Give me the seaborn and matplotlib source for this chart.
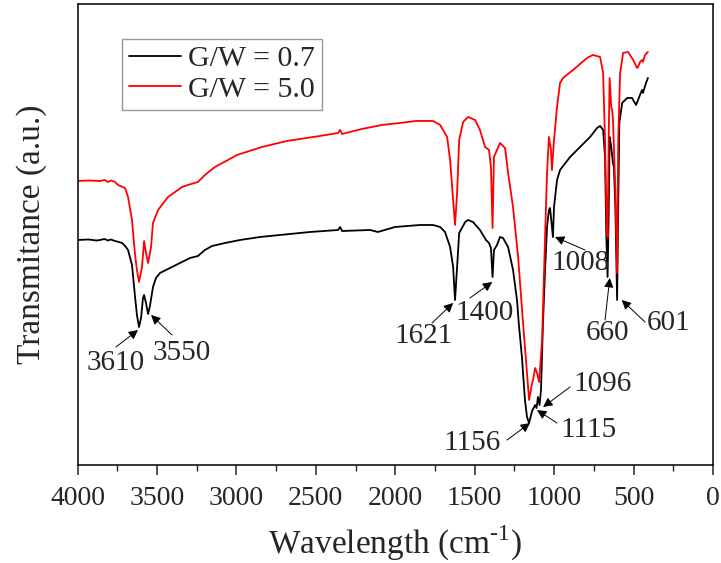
import matplotlib
matplotlib.use("Agg")
import matplotlib.pyplot as plt
import seaborn as sns
import pandas as pd

# ---------------- data ----------------
wn_black = [4000, 3930, 3880, 3858, 3830, 3808, 3790, 3764, 3740, 3720, 3700, 3682, 3657, 3639, 3626,
            3613, 3600, 3588, 3581, 3569, 3556, 3544, 3525, 3506, 3481, 3418, 3355, 3292, 3242, 3198,
            3153, 3071, 2977, 2851, 2726, 2537, 2360, 2347, 2335, 2159, 2109, 2002, 1844, 1762, 1718,
            1687, 1655, 1636, 1624, 1611, 1598, 1560, 1542, 1511, 1467, 1429, 1410, 1398, 1388, 1379,
            1360, 1341, 1322, 1290, 1259, 1234, 1222, 1203, 1184, 1171, 1158, 1139, 1120, 1111, 1102,
            1092, 1083, 1071, 1058, 1045, 1033, 1026, 1014, 1008, 1001, 982, 963, 900, 837, 774,
            730, 711, 692, 680, 672, 664, 657, 651, 641, 630, 624, 615, 604, 597, 590,
            572, 541, 510, 485, 472, 460, 447, 441, 422, 410]
t_black = [225, 225.5, 224.5, 225, 226, 224.5, 225.5, 224, 223, 222, 219, 215, 200, 170, 150,
           138, 147, 167, 170, 162, 151, 159, 178, 187, 192, 197, 202, 207, 209, 215,
           219, 222, 225, 228, 230, 233, 235, 238, 234, 235, 233, 238, 240, 240, 238,
           233, 218, 198, 165, 198, 232, 243, 245, 243, 235, 225, 222, 217, 188, 215,
           220, 228, 227, 218, 195, 165, 140, 108, 65, 48, 42, 54, 60, 57, 68,
           60, 75, 140, 192, 238, 255, 257, 238, 228, 258, 285, 295, 308, 318, 328,
           337, 339, 335, 308, 230, 188, 250, 328, 318, 302, 298, 258, 165, 258, 342,
           362, 367, 367, 360, 365, 370, 375, 372, 382, 387]

wn_red = [4000, 3930, 3858, 3830, 3808, 3790, 3764, 3745, 3701, 3682, 3657, 3639, 3626, 3613, 3594,
          3581, 3569, 3556, 3537, 3525, 3493, 3430, 3342, 3305, 3242, 3198, 3135, 3053, 2996, 2839,
          2682, 2474, 2360, 2347, 2335, 2210, 2084, 1970, 1870, 1762, 1718, 1674, 1655, 1636, 1624,
          1611, 1598, 1573, 1542, 1498, 1467, 1435, 1410, 1398, 1388, 1379, 1360, 1341, 1309, 1290,
          1259, 1227, 1196, 1171, 1158, 1139, 1133, 1120, 1108, 1095, 1076, 1058, 1045, 1033, 1020,
          1014, 1001, 982, 963, 944, 881, 793, 756, 711, 692, 680, 672, 664, 657, 651,
          641, 635, 630, 615, 604, 597, 585, 566, 535, 503, 478, 472, 460, 447, 441,
          428, 410]
t_red = [284, 284.5, 284, 285, 283, 284.5, 283, 280, 277, 268, 245, 212, 195, 183, 198,
         224, 212, 202, 218, 242, 255, 268, 278, 280, 283, 290, 298, 305, 310, 318,
         324, 329, 332, 335, 331, 336, 340, 342, 344, 344, 340, 328, 305, 265, 240,
         272, 325, 343, 348, 345, 335, 318, 315, 298, 237, 308, 315, 322, 317, 292,
         258, 208, 142, 92, 65, 82, 85, 97, 92, 83, 125, 225, 292, 328, 315,
         295, 325, 358, 382, 387, 395, 407, 410, 408, 392, 325, 260, 228, 325, 387,
         358, 355, 345, 275, 192, 325, 392, 412, 413, 405, 397, 398, 403, 405, 403,
         410, 413]

series_names = ["G/W = 0.7", "G/W = 5.0"]
series_colors = ["#000000", "#ff0000"]

peak_labels = ["3610", "3550", "1621", "1400", "1008", "660", "601", "1096", "1115", "1156"]
# layout of the peak annotations: (text x, text y, arrow tail x, tail y, arrow head x, head y)
peak_layout = [
    (3758, 102, 3758, 118, 3619, 135),
    (3347, 112, 3405, 130, 3537, 150),
    (1819, 129, 1769, 142, 1636, 162),
    (1435, 152, 1530, 167, 1390, 183),
    (837, 202, 806, 215, 995, 228),
    (667, 132, 680, 145, 650, 187),
    (277, 142, 428, 143, 575, 165),
    (693, 81, 900, 78, 1070, 58),
    (781, 35, 982, 42, 1108, 55),
    (1517, 22, 1297, 25, 1152, 42),
]

df = pd.concat([
    pd.DataFrame({"wn": wn_black, "T": t_black, "sample": series_names[0]}),
    pd.DataFrame({"wn": wn_red, "T": t_red, "sample": series_names[1]}),
])

# ---------------- style ----------------
sns.set_style("ticks")
plt.rcParams["font.family"] = ["Liberation Serif", "DejaVu Serif"]
plt.rcParams["mathtext.fontset"] = "custom"
plt.rcParams["mathtext.rm"] = "Liberation Serif"

fig = plt.figure(figsize=(7.21, 5.63), dpi=100)
ax = fig.add_axes([0.1075, 0.174, 0.8815, 0.819])

sns.lineplot(data=df, x="wn", y="T", hue="sample", palette=series_colors,
             hue_order=series_names, ax=ax, linewidth=1.3, sort=False,
             estimator=None, legend=True)

ax.set_xlim(4000, 0)
ax.set_ylim(0, 461)
ax.set_yticks([])
ax.set_xticks(range(0, 4001, 500))
ax.set_xticks(range(0, 4001, 250), minor=True)
ax.tick_params(axis="x", which="major", direction="out", length=7, width=1.1,
               labelsize=20, pad=8, top=False)
ax.tick_params(axis="x", which="minor", direction="out", length=4, width=1.0, top=False)
for s in ax.spines.values():
    s.set_visible(True)
    s.set_linewidth(1.1)
    s.set_color("black")

ax.set_xlabel("Wavelength (cm$^{\\mathregular{\u2010}1}$)", fontsize=24, labelpad=9)
ax.set_ylabel("Transmitance (a.u.)", fontsize=24, labelpad=22)

for lab, (tx, ty, ax0, ay0, hx, hy) in zip(peak_labels, peak_layout):
    ax.text(tx, ty, lab, fontsize=21, ha="center", va="center")
    ax.annotate("", xy=(hx, hy), xytext=(ax0, ay0),
                arrowprops=dict(arrowstyle="-|>", color="black", lw=0.7,
                                mutation_scale=14, shrinkA=0, shrinkB=0))

leg = ax.legend(loc="upper left", bbox_to_anchor=(0.070, 0.924), borderaxespad=0,
                fontsize=21.5, frameon=True, fancybox=False, edgecolor="#808080",
                handlelength=1.75, handletextpad=0.25, labelspacing=0.12,
                borderpad=0.22, title=None)
leg.get_frame().set_linewidth(1.0)
for line in leg.get_lines():
    line.set_linewidth(1.3)

fig.savefig("out.png", dpi=100)
